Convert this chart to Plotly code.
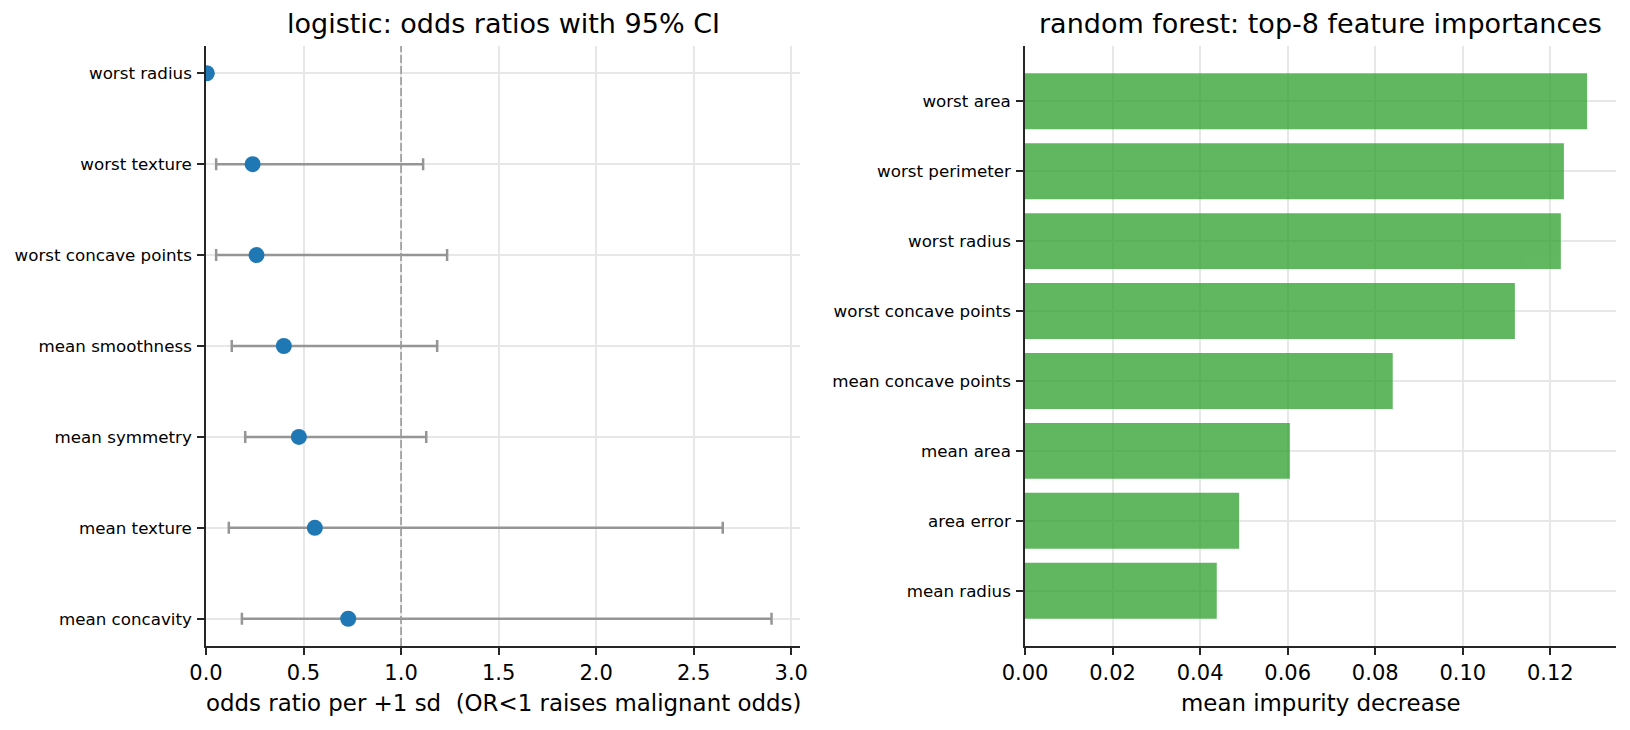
import plotly.graph_objects as go

# ---------------- data ----------------
or_features = ["worst radius", "worst texture", "worst concave points", "mean smoothness",
               "mean symmetry", "mean texture", "mean concavity"]
or_values = [0.004, 0.239, 0.259, 0.399, 0.476, 0.558, 0.729]
or_lo = [0.002, 0.052, 0.052, 0.132, 0.201, 0.117, 0.184]
or_hi = [0.008, 1.113, 1.236, 1.185, 1.129, 2.649, 2.899]

rf_features = ["worst area", "worst perimeter", "worst radius", "worst concave points",
               "mean concave points", "mean area", "area error", "mean radius"]
rf_importance = [0.1284, 0.1231, 0.1224, 0.1119, 0.0840, 0.0605, 0.0489, 0.0438]

x_left_ticks = [0.0, 0.5, 1.0, 1.5, 2.0, 2.5, 3.0]
x_right_ticks = [0.00, 0.02, 0.04, 0.06, 0.08, 0.10, 0.12]

# ---------------- figure ----------------
W, H = 1630, 730
FONT = "DejaVu Sans"
AX = "#262626"
GRID = "#e7e7e7"

fig = go.Figure()

fig.add_trace(go.Scatter(
    x=or_values, y=or_features, mode="markers",
    marker=dict(color="#1f77b4", size=16, line=dict(width=0)),
    error_x=dict(type="data", symmetric=False,
                 array=[h - v for h, v in zip(or_hi, or_values)],
                 arrayminus=[v - l for v, l in zip(or_values, or_lo)],
                 color="#959595", thickness=2.5, width=6),
    cliponaxis=True, xaxis="x", yaxis="y", showlegend=False,
))

fig.add_trace(go.Bar(
    x=rf_importance, y=rf_features, orientation="h",
    marker=dict(color="#2ca02c", line=dict(width=0)), opacity=0.75, width=0.8,
    xaxis="x2", yaxis="y2", showlegend=False,
))

def px_x(p):
    return p / W

def px_y(p):
    return 1 - p / H

left_dom = [px_x(206), px_x(800)]
right_dom = [px_x(1025), px_x(1616)]
y_dom = [px_y(646), px_y(46)]

common_x = dict(showline=True, linecolor=AX, linewidth=1.6, ticks="outside", ticklen=7,
                tickwidth=1.6, tickcolor=AX, showgrid=True, gridcolor=GRID, gridwidth=1.6,
                zeroline=False, mirror=False, automargin=False,
                tickfont=dict(family=FONT, size=21, color="black"))
common_y = dict(showline=True, linecolor=AX, linewidth=1.6, ticks="outside", ticklen=7,
                tickwidth=1.6, tickcolor=AX, showgrid=True, gridcolor=GRID, gridwidth=1.6,
                zeroline=False, mirror=False, automargin=False,
                tickfont=dict(family=FONT, size=16.7, color="black"),
                type="category", ticklabelstandoff=2)

fig.update_layout(
    width=W, height=H, margin=dict(l=0, r=0, t=0, b=0, autoexpand=False),
    paper_bgcolor="white", plot_bgcolor="white", showlegend=False,
    font=dict(family=FONT, color="black"),
    xaxis=dict(domain=left_dom, range=[0, 3.045], tickvals=x_left_ticks,
               ticktext=[f"{v:.1f}" for v in x_left_ticks], anchor="y", **common_x),
    yaxis=dict(domain=y_dom, range=[6.3, -0.3], categoryorder="array",
               categoryarray=or_features, anchor="x", **common_y),
    xaxis2=dict(domain=right_dom, range=[0, 0.135], tickvals=x_right_ticks,
                ticktext=[f"{v:.2f}" for v in x_right_ticks], anchor="y2", **common_x),
    yaxis2=dict(domain=y_dom, range=[7.79, -0.79], categoryorder="array",
                categoryarray=rf_features, anchor="x2", **common_y),
    bargap=0.2,
)

fig.add_shape(type="line", xref="x", yref="y domain", x0=1.0, x1=1.0, y0=0, y1=1,
              line=dict(color="#999999", width=1.6, dash="8px,3px"), layer="above")

annos = [
    dict(text="logistic: odds ratios with 95% CI", x=px_x(503), y=px_y(23), size=27),
    dict(text="random forest: top-8 feature importances", x=px_x(1320.5), y=px_y(23), size=27),
    dict(text="odds ratio per +1 sd  (OR<1 raises malignant odds)", x=px_x(503), y=px_y(703), size=22.9),
    dict(text="mean impurity decrease", x=px_x(1320.5), y=px_y(703), size=22.9),
]
for a in annos:
    fig.add_annotation(text=a["text"], x=a["x"], y=a["y"], xref="paper", yref="paper",
                       xanchor="center", yanchor="middle", showarrow=False,
                       font=dict(family=FONT, size=a["size"], color="black"))

fig.write_html("out.html")
